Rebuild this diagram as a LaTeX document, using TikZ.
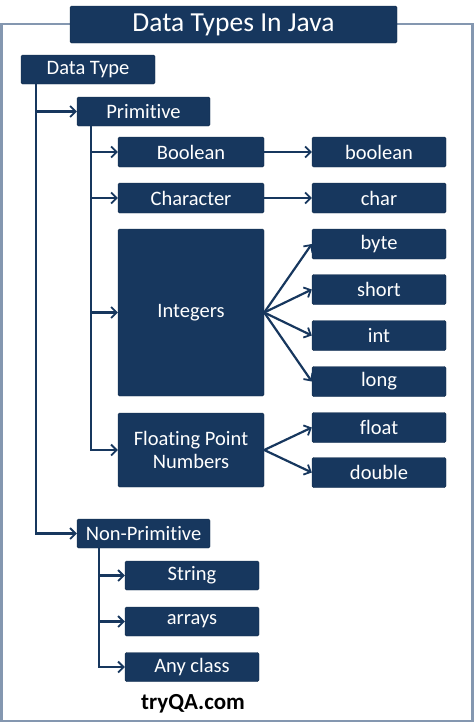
\documentclass[tikz,border=0pt]{standalone}
\usepackage{fontspec}
\setmainfont{Carlito}[Ligatures=NoCommon]
\usetikzlibrary{arrows.meta}
\definecolor{navy}{HTML}{17375E}
\definecolor{framec}{HTML}{8497B0}
\tikzset{
  box/.style={fill=navy, draw=navy!80!black, line width=0.4pt, rounded corners=1.5pt, text=white, font=\fontsize{20.5}{22}\selectfont, inner sep=0pt, align=center},
  wide/.style={box, minimum width=146pt, minimum height=30pt},
  val/.style={box, minimum width=134pt, minimum height=30pt},
  lvl/.style={box, minimum width=133pt, minimum height=29pt},
  conn/.style={draw=navy, line width=2.2pt, -{Straight Barb[length=5.5pt,width=11pt,line width=1.8pt]}},
}
\begin{document}
\begin{tikzpicture}[x=1pt,y=-1pt]
\useasboundingbox (0,0) rectangle (474,723);
\draw[framec, line width=2.5pt] (1.5,24) rectangle (472.5,721);
\node[box, minimum width=327pt, minimum height=37pt, font=\fontsize{27.5}{29}\selectfont] (title) at (233.5,24.5) {Data Types In Java};
\node[lvl, minimum width=134pt] (dt) at (88,69.5) {Data Type};
\node[lvl] (prim) at (143.5,111.5) {Primitive};
\node[wide] (bool) at (191,152) {Boolean};
\node[val] (boolv) at (379,152) {boolean};
\node[wide] (char) at (191,198) {Character};
\node[val] (charv) at (379,198) {char};
\node[wide, minimum height=167pt] (integ) at (191,312.5) {Integers};
\node[val] (byte) at (379,244) {byte};
\node[val] (short) at (379,289.5) {short};
\node[val] (int) at (379,335.5) {int};
\node[val] (long) at (379,381.5) {long};
\node[wide, minimum height=74pt] (fp) at (191,450) {Floating Point\\[1pt]Numbers};
\node[val] (float) at (379,427.5) {float};
\node[val] (double) at (379,472.5) {double};
\node[lvl] (nonp) at (143.5,533.5) {Non-Primitive};
\node[val, minimum height=29pt] (string) at (192,575.5) {String};
\node[val, minimum height=29pt] (arrays) at (192,621.5) {arrays};
\node[val, minimum height=29pt] (any) at (192,667) {Any class};
\node[font=\fontsize{23}{25}\selectfont\bfseries, text=black] (site) at (193,704) {tryQA.com};
% connectors
\draw[conn] ([xshift=15pt]dt.south west) |- (prim.west);
\draw[conn] ([xshift=15pt]dt.south west) |- (nonp.west);
\draw[conn] ([xshift=14pt]prim.south west) |- (bool.west);
\draw[conn] ([xshift=14pt]prim.south west) |- (char.west);
\draw[conn] ([xshift=14pt]prim.south west) |- (integ.west);
\draw[conn] ([xshift=14pt]prim.south west) |- (fp.west);
\draw[conn] (bool.east) -- (boolv.west);
\draw[conn] (char.east) -- (charv.west);
\draw[conn] (integ.east) -- (byte.west);
\draw[conn] (integ.east) -- (short.west);
\draw[conn] (integ.east) -- (int.west);
\draw[conn] (integ.east) -- (long.west);
\draw[conn] (fp.east) -- (float.west);
\draw[conn] (fp.east) -- (double.west);
\draw[conn] ([xshift=22pt]nonp.south west) |- (string.west);
\draw[conn] ([xshift=22pt]nonp.south west) |- (arrays.west);
\draw[conn] ([xshift=22pt]nonp.south west) |- (any.west);
\end{tikzpicture}
\end{document}
